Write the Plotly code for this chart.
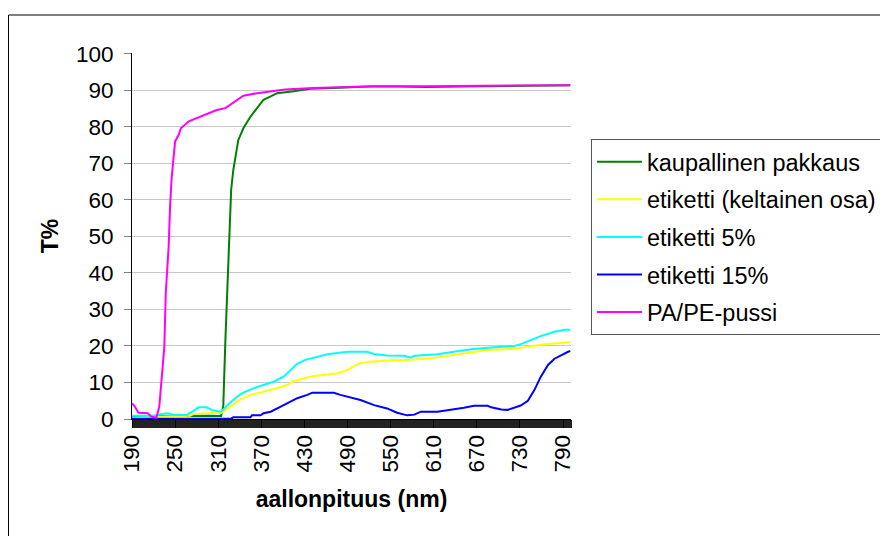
import plotly.graph_objects as go

# ---- data ----
green_wl = [190, 250, 300, 314, 317, 320, 322, 325, 328, 331, 334, 338, 345, 355, 364, 373, 383, 392, 415, 438, 470, 520, 560, 600, 650, 700, 750, 800]
green_t = [0.8, 0.9, 0.9, 0.8, 3.4, 21.7, 33.5, 50.9, 62.7, 68.2, 72.3, 76.4, 79.6, 82.8, 85.1, 87.4, 88.3, 89.2, 89.7, 90.4, 90.6, 91.0, 91.0, 90.9, 91.0, 91.1, 91.3, 91.4]

yellow_wl = [190, 220, 271, 276, 308, 315, 327, 341, 355, 373, 392, 406, 415, 429, 443, 462, 476, 490, 499, 508, 522, 545, 578, 606, 629, 662, 685, 722, 741, 759, 778, 800]
yellow_t = [0.3, 0.6, 0.9, 1.4, 1.7, 1.7, 3.4, 5.4, 6.6, 7.4, 8.4, 9.3, 10.4, 11.1, 11.8, 12.2, 12.5, 13.4, 14.5, 15.3, 15.7, 16.0, 16.2, 16.6, 17.3, 18.4, 18.9, 19.2, 19.8, 20.3, 20.7, 21.0]

cyan_wl = [190, 220, 230, 238, 250, 266, 276, 283, 294, 301, 313, 317, 327, 336, 345, 359, 373, 387, 401, 410, 420, 431, 443, 462, 490, 517, 527, 545, 569, 578, 583, 615, 638, 662, 685, 708, 722, 731, 745, 759, 778, 792, 800]
cyan_t = [0.9, 0.9, 1.3, 1.6, 1.1, 1.1, 2.3, 3.2, 3.2, 2.5, 2.0, 2.6, 4.5, 6.1, 7.2, 8.4, 9.3, 10.2, 11.6, 13.2, 15.1, 16.2, 16.7, 17.7, 18.4, 18.4, 17.8, 17.4, 17.3, 16.8, 17.3, 17.7, 18.4, 19.1, 19.5, 19.8, 20.0, 20.5, 21.6, 22.7, 23.9, 24.4, 24.4]

blue_wl = [190, 328, 331, 355, 357, 369, 373, 383, 397, 406, 420, 434, 441, 462, 471, 480, 494, 508, 527, 545, 559, 573, 583, 592, 615, 634, 652, 666, 685, 690, 704, 713, 722, 731, 741, 750, 759, 769, 778, 787, 797, 800]
blue_t = [0.1, 0.1, 0.5, 0.5, 1.0, 1.0, 1.6, 2.0, 3.4, 4.3, 5.7, 6.6, 7.2, 7.2, 7.2, 6.6, 5.9, 5.2, 3.8, 2.9, 1.7, 1.0, 1.2, 2.0, 2.0, 2.5, 3.1, 3.6, 3.6, 3.2, 2.6, 2.5, 3.1, 3.7, 5.0, 7.9, 11.6, 14.8, 16.5, 17.5, 18.4, 18.6]

magenta_wl = [190, 194, 199, 212, 217, 224, 228, 231, 235, 237, 241, 243, 245, 248, 250, 255, 258, 269, 280, 290, 308, 320, 327, 336, 345, 364, 383, 403, 442, 526, 600, 700, 800]
magenta_t = [4.3, 3.4, 1.7, 1.6, 0.6, 0.4, 3.4, 10.7, 19.8, 34.5, 47.2, 58.2, 65.5, 71.9, 76.0, 77.8, 79.6, 81.5, 82.4, 83.3, 84.6, 85.1, 86.0, 87.4, 88.5, 89.2, 89.7, 90.2, 90.6, 91.1, 91.1, 91.2, 91.4]

series_names = ["kaupallinen pakkaus", "etiketti (keltainen osa)", "etiketti 5%", "etiketti 15%", "PA/PE-pussi"]
x_tick_labels = [190, 250, 310, 370, 430, 490, 550, 610, 670, 730, 790]
y_tick_labels = [0, 10, 20, 30, 40, 50, 60, 70, 80, 90, 100]

# ---- figure ----
W, H = 888, 536
OFF = 8  # page body margin of the browser
L, R, T, B = 132 - OFF, 571 - OFF, 53 - OFF, 419 - OFF

series = [
    (green_wl, green_t, "#008000"),
    (yellow_wl, yellow_t, "#FFFF00"),
    (cyan_wl, cyan_t, "#00FFFF"),
    (blue_wl, blue_t, "#0000FF"),
    (magenta_wl, magenta_t, "#FF00FF"),
]

fig = go.Figure()
for (wl, t, col), name in zip(series, series_names):
    fig.add_trace(go.Scatter(x=wl, y=t, mode="lines", name=name,
                             legendgroup=name,
                             line=dict(color=col, width=2)))

FONT = "Liberation Sans, Arial, sans-serif"

def px_x(p):
    return (p - OFF - L) / (R - L)

def px_y(p):
    return (B - (p - OFF)) / (B - T)

fig.update_layout(
    width=W, height=H,
    margin=dict(l=L, r=W - R, t=T, b=H - B, pad=0),
    paper_bgcolor="white", plot_bgcolor="white",
    font=dict(family=FONT, size=22.5, color="black"),
    showlegend=True,
    legend=dict(
        x=px_x(591), y=px_y(139), xanchor="left", yanchor="top",
        bgcolor="white", bordercolor="#555555", borderwidth=1,
        font=dict(family=FONT, size=23.5, color="black"),
        tracegroupgap=4, itemwidth=45,
    ),
    shapes=[dict(type="rect", xref="paper", yref="paper",
                 x0=px_x(OFF + 0.5), x1=px_x(910), y0=px_y(560), y1=px_y(15),
                 line=dict(color="black", width=1), fillcolor="rgba(0,0,0,0)",
                 layer="below")],
)

fig.update_xaxes(
    range=[190, 801],
    tickmode="array", tickvals=x_tick_labels, ticktext=[str(v) for v in x_tick_labels],
    tickangle=-90,
    ticks="outside", ticklen=8, tickcolor="black", tickwidth=1,
    minor=dict(ticks="outside", ticklen=8, dtick=1, tick0=190, tickcolor="#222222", tickwidth=1, showgrid=False),
    showline=True, linecolor="black", linewidth=1,
    showgrid=False, zeroline=False,
    tickfont=dict(family=FONT, size=22.5, color="black"),
    ticklabelstandoff=-2,
    title=dict(text="<b>aallonpituus (nm)</b>", font=dict(family=FONT, size=23, color="black"), standoff=19),
)
fig.update_yaxes(
    range=[0, 100.2],
    tickmode="array", tickvals=y_tick_labels,
    ticks="outside", ticklen=7, tickcolor="#808080", tickwidth=1,
    showline=True, linecolor="black", linewidth=1,
    showgrid=True, gridcolor="#C8C8C8", gridwidth=1, zeroline=False,
    tickfont=dict(family=FONT, size=22.5, color="black"),
    ticklabelstandoff=6,
    title=dict(text="<b>T%</b>", font=dict(family=FONT, size=23, color="black"), standoff=10),
)

fig.write_html("out.html")
